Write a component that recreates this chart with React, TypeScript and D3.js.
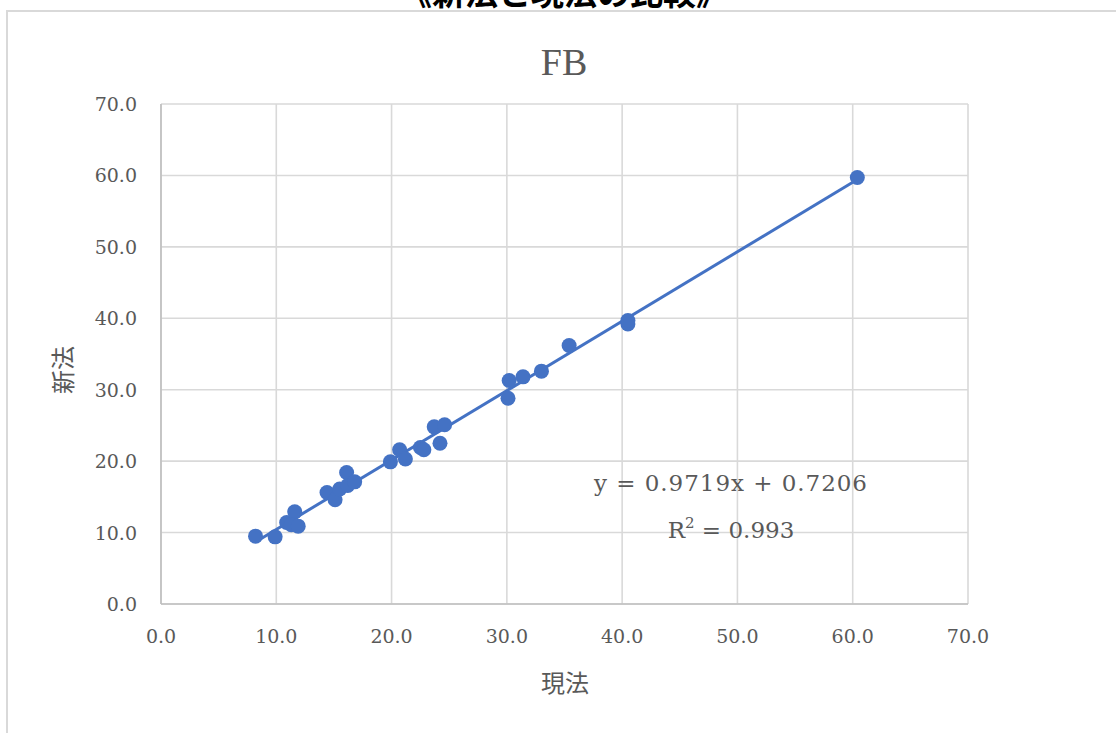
import React from "react";
import * as d3 from "d3";

const oldMethod = [8.2, 9.9, 10.9, 11.6, 11.3, 11.9, 14.4, 15.1, 15.5, 16.1, 16.2, 16.8, 19.9, 20.7, 21.2, 22.5, 22.8, 24.2, 23.7, 24.6, 30.2, 30.1, 31.4, 33.0, 35.4, 40.5, 40.5, 60.4];
const newMethod = [9.5, 9.4, 11.4, 12.9, 11.1, 10.9, 15.6, 14.6, 16.1, 18.4, 16.6, 17.1, 19.9, 21.6, 20.3, 21.9, 21.6, 22.5, 24.8, 25.1, 31.3, 28.8, 31.8, 32.6, 36.2, 39.2, 39.7, 59.7];
const trendCoef = [0.9719, 0.7206];
const tickValues = [0, 10, 20, 30, 40, 50, 60, 70];
const pageTitle = "《新法と現法の比較》";
const chartTitle = "FB";
const xTitle = "現法";
const yTitle = "新法";
const eqText = "y = 0.9719x + 0.7206";
const r2Value = "0.993";

export default function App() {
  const W = 1116, H = 733;
  const x = d3.scaleLinear().domain([0, 70]).range([161, 968]);
  const y = d3.scaleLinear().domain([0, 70]).range([604, 104]);
  const grid = "#d9d9d9";
  const txt = "#595959";
  const blue = "#4472C4";
  const serif = "'DejaVu Serif', 'Noto Sans CJK JP', serif";
  const lserif = "'Liberation Serif', serif";
  const cjk = "'Noto Sans CJK JP', sans-serif";
  const xmin = d3.min(oldMethod) as number;
  const xmax = d3.max(oldMethod) as number;
  const line = d3.line<number>().x(d => x(d)).y(d => y(trendCoef[0] * d + trendCoef[1]));
  const pts = oldMethod.map((v, i) => [v, newMethod[i]]);
  return (
    <div style={{ position: "fixed", left: 0, top: 0 }}>
      <svg width={W} height={H} style={{ display: "block", background: "#fff" }}>
        <rect x={7} y={11} width={1200} height={800} fill="#fff" stroke={grid} strokeWidth={2} />
        <text x={564} y={5} textAnchor="middle" fontSize={33} fontWeight="bold" fill="#000" fontFamily={cjk}>{pageTitle}</text>
        <text x={564} y={75} textAnchor="middle" fontSize={38} fill={txt} fontFamily={lserif}>{chartTitle}</text>
        {tickValues.map(t => (
          <g key={"g" + t}>
            <line x1={x(t)} x2={x(t)} y1={y(0)} y2={y(70)} stroke={grid} strokeWidth={1.6} />
            <line x1={x(0)} x2={x(70)} y1={y(t)} y2={y(t)} stroke={grid} strokeWidth={1.6} />
          </g>
        ))}
        <line x1={x(0)} x2={x(70)} y1={y(0)} y2={y(0)} stroke="#bfbfbf" strokeWidth={1.6} />
        <line x1={x(0)} x2={x(0)} y1={y(0)} y2={y(70)} stroke="#bfbfbf" strokeWidth={1.6} />
        {tickValues.map(t => (
          <text key={"yl" + t} x={137} y={y(t) + 7} textAnchor="end" fontSize={19} fill={txt} fontFamily={serif}>{t.toFixed(1)}</text>
        ))}
        {tickValues.map(t => (
          <text key={"xl" + t} x={x(t)} y={643} textAnchor="middle" fontSize={19} fill={txt} fontFamily={serif}>{t.toFixed(1)}</text>
        ))}
        <text x={565} y={692} textAnchor="middle" fontSize={24} fill={txt} fontFamily={cjk}>{xTitle}</text>
        <text transform="translate(72,370) rotate(-90)" textAnchor="middle" fontSize={24} fill={txt} fontFamily={cjk}>{yTitle}</text>
        <path d={line([xmin, xmax]) || ""} stroke={blue} strokeWidth={3} fill="none" />
        {pts.map((p, i) => (
          <circle key={i} cx={x(p[0])} cy={y(p[1])} r={7.5} fill={blue} />
        ))}
        <text x={594} y={491} textLength={273} lengthAdjust="spacing" fontSize={23} fill={txt} fontFamily={serif}>{eqText}</text>
        <text x={731} y={538} textAnchor="middle" fontSize={23} fill={txt} fontFamily={serif}>
          R<tspan fontSize={15} dy={-10}>2</tspan><tspan dy={10}>{" = " + r2Value}</tspan>
        </text>
      </svg>
    </div>
  );
}
